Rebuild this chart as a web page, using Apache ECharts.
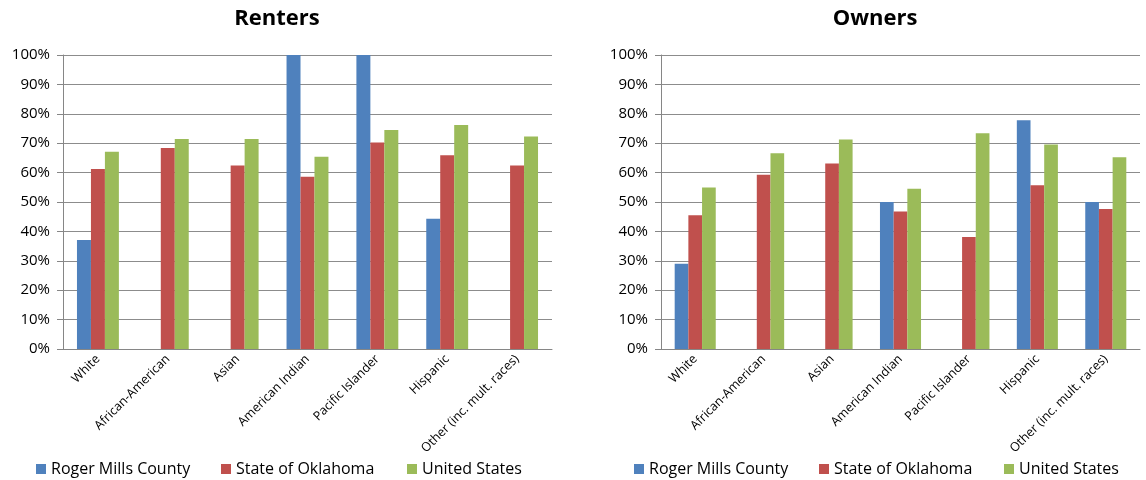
<!DOCTYPE html>
<html><head><meta charset="utf-8">
<script src="https://cdn.jsdelivr.net/npm/echarts@6/dist/echarts.min.js"></script>
<style>html,body{margin:0;padding:0;background:#fff}#c{width:1146px;height:480px}</style>
</head><body><div id="c"></div>
<script>
const categories = ['White','African-American','Asian','American Indian','Pacific Islander','Hispanic','Other (inc. mult. races)'];
const seriesNames = ['Roger Mills County','State of Oklahoma','United States'];
const rentersCounty = [37.1, null, null, 100, 100, 44.3, null];
const rentersState = [61.2, 68.4, 62.4, 58.6, 70.2, 65.9, 62.4];
const rentersUS = [67.1, 71.4, 71.4, 65.4, 74.5, 76.2, 72.3];
const ownersCounty = [29.0, null, null, 50, null, 77.8, 50];
const ownersState = [45.5, 59.3, 63.1, 46.8, 38.1, 55.7, 47.6];
const ownersUS = [54.9, 66.6, 71.3, 54.5, 73.4, 69.6, 65.2];
const colors = ['#4F81BD','#C0504D','#9BBB59'];
const font = 'Open Sans, Liberation Sans, sans-serif';

const chart = echarts.init(document.getElementById('c'));
function xAxis(i){return {type:'category',gridIndex:i,data:categories,
  axisLine:{lineStyle:{color:'#868686'}},axisTick:{length:5,lineStyle:{color:'#868686'}},
  axisLabel:{rotate:45,fontSize:12.5,color:'#000',fontFamily:font,margin:8,interval:0}};}
function yAxis(i){return {type:'value',gridIndex:i,min:0,max:100,interval:10,
  axisLine:{show:true,lineStyle:{color:'#868686'}},axisTick:{show:true,length:6,lineStyle:{color:'#868686'}},
  splitLine:{lineStyle:{color:'#8c8c8c'}},
  axisLabel:{formatter:'{value}%',fontSize:15,color:'#000',fontFamily:font,margin:13}};}
function bar(name,data,i,c){return {name:name,type:'bar',xAxisIndex:i,yAxisIndex:i,data:data,
  itemStyle:{color:c},barGap:'0%',barCategoryGap:'40%'};}
const legendX = [[31,216,402],[629,814,999]];
const legends = [];
legendX.forEach(function(row){row.forEach(function(x,k){
  legends.push({data:[seriesNames[k]],left:x,top:456,itemWidth:10,itemHeight:10,itemGap:0,icon:'rect',
    textStyle:{fontSize:16,fontFamily:font,color:'#000',padding:[0,0,0,0]}});});});
chart.setOption({
  animation:false,
  color:colors,
  title:[{text:'Renters',left:272,top:3,textAlign:'center',textStyle:{fontSize:22,fontWeight:'bold',fontFamily:font,color:'#000'}},
         {text:'Owners',left:870,top:3,textAlign:'center',textStyle:{fontSize:22,fontWeight:'bold',fontFamily:font,color:'#000'}}],
  legend:legends,
  grid:[{left:63,right:594,top:55,bottom:131},{left:661,right:6,top:55,bottom:131}],
  xAxis:[xAxis(0),xAxis(1)],
  yAxis:[yAxis(0),yAxis(1)],
  series:[bar(seriesNames[0],rentersCounty,0,colors[0]),bar(seriesNames[1],rentersState,0,colors[1]),bar(seriesNames[2],rentersUS,0,colors[2]),
          bar(seriesNames[0],ownersCounty,1,colors[0]),bar(seriesNames[1],ownersState,1,colors[1]),bar(seriesNames[2],ownersUS,1,colors[2])]
});
</script></body></html>
